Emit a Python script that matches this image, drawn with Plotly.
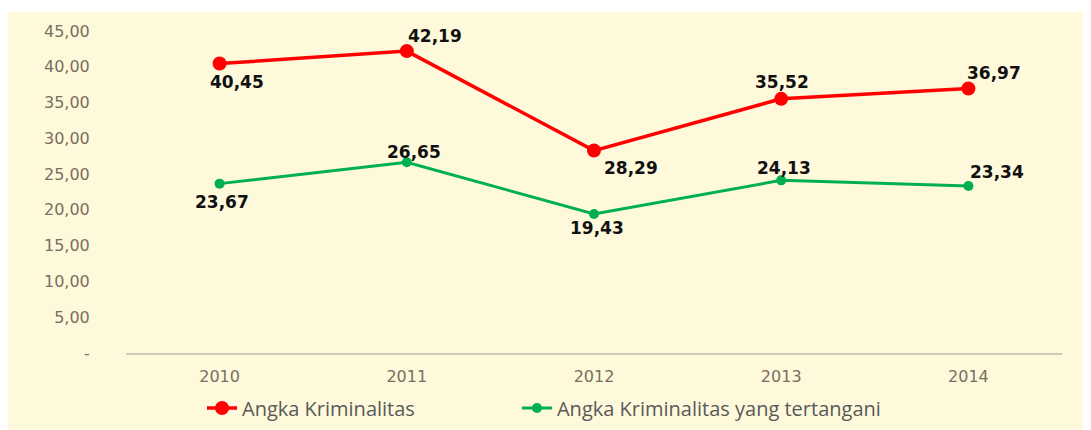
import plotly.graph_objects as go

years = [2010, 2011, 2012, 2013, 2014]
angka_kriminalitas = [40.45, 42.19, 28.29, 35.52, 36.97]
angka_tertangani = [23.67, 26.65, 19.43, 24.13, 23.34]
series_names = ["Angka Kriminalitas", "Angka Kriminalitas yang tertangani"]
y_tick_vals = [0, 5, 10, 15, 20, 25, 30, 35, 40, 45]
y_tick_text = ["-", "5,00", "10,00", "15,00", "20,00", "25,00", "30,00", "35,00", "40,00", "45,00"]

# label offsets (px) per point: (xshift, yshift)
red_offsets = [(17, -18), (28, 15), (37, -17), (1, 17), (26, 15)]
green_offsets = [(2, -18), (7, 10), (3, -14), (3, 12), (29, 14)]

RED = "#FF0000"
GREEN = "#00B050"
CREAM = "#FEF9DB"
TICK_COLOR = "#7A6E60"


def fmt(v):
    return f"{v:.2f}".replace(".", ",")


fig = go.Figure()
fig.add_trace(go.Scatter(
    x=years, y=angka_kriminalitas, name=series_names[0], mode="lines+markers",
    line=dict(color=RED, width=3.5), marker=dict(color=RED, size=14), legend="legend",
))
fig.add_trace(go.Scatter(
    x=years, y=angka_tertangani, name=series_names[1], mode="lines+markers",
    line=dict(color=GREEN, width=3), marker=dict(color=GREEN, size=10), legend="legend2",
))

annotations = []
for vals, offs in ((angka_kriminalitas, red_offsets), (angka_tertangani, green_offsets)):
    for x, v, (dx, dy) in zip(years, vals, offs):
        annotations.append(dict(
            x=x, y=v, xref="x", yref="y", text="<b>" + fmt(v) + "</b>", showarrow=False,
            xshift=dx, yshift=dy,
            font=dict(family="DejaVu Sans", size=17, color="#111111"),
        ))

legend_font = dict(family="Open Sans", size=20, color="#595959")

fig.update_layout(
    width=1083, height=422,
    margin=dict(l=118, r=29, t=23, b=77, autoexpand=False),
    paper_bgcolor="white",
    plot_bgcolor=CREAM,
    showlegend=True,
    legend=dict(orientation="h", x=0.0812, xanchor="left", y=-0.171, yanchor="middle",
                font=legend_font, bgcolor="rgba(0,0,0,0)"),
    legend2=dict(orientation="h", x=0.4177, xanchor="left", y=-0.171, yanchor="middle",
                 font=legend_font, bgcolor="rgba(0,0,0,0)"),
    annotations=annotations,
    shapes=[dict(type="rect", xref="paper", yref="paper", x0=-0.1261, x1=1.04,
                 y0=-0.25, y1=1.059, fillcolor=CREAM, line=dict(width=0), layer="below")],
    xaxis=dict(range=[years[0] - 0.5, years[-1] + 0.5], tickvals=years,
               ticktext=[str(y) for y in years],
               showgrid=False, showline=True, linecolor="#CFC9B5", linewidth=1.5,
               ticks="outside", ticklen=8, tickcolor="rgba(0,0,0,0)", zeroline=False,
               tickfont=dict(family="DejaVu Sans", size=16, color=TICK_COLOR)),
    yaxis=dict(range=[0, 45], tickvals=y_tick_vals, ticktext=y_tick_text,
               showgrid=False, zeroline=False, showline=False,
               ticks="outside", ticklen=32, tickcolor="rgba(0,0,0,0)",
               tickfont=dict(family="DejaVu Sans", size=16, color=TICK_COLOR)),
)

fig.write_html("out.html")
